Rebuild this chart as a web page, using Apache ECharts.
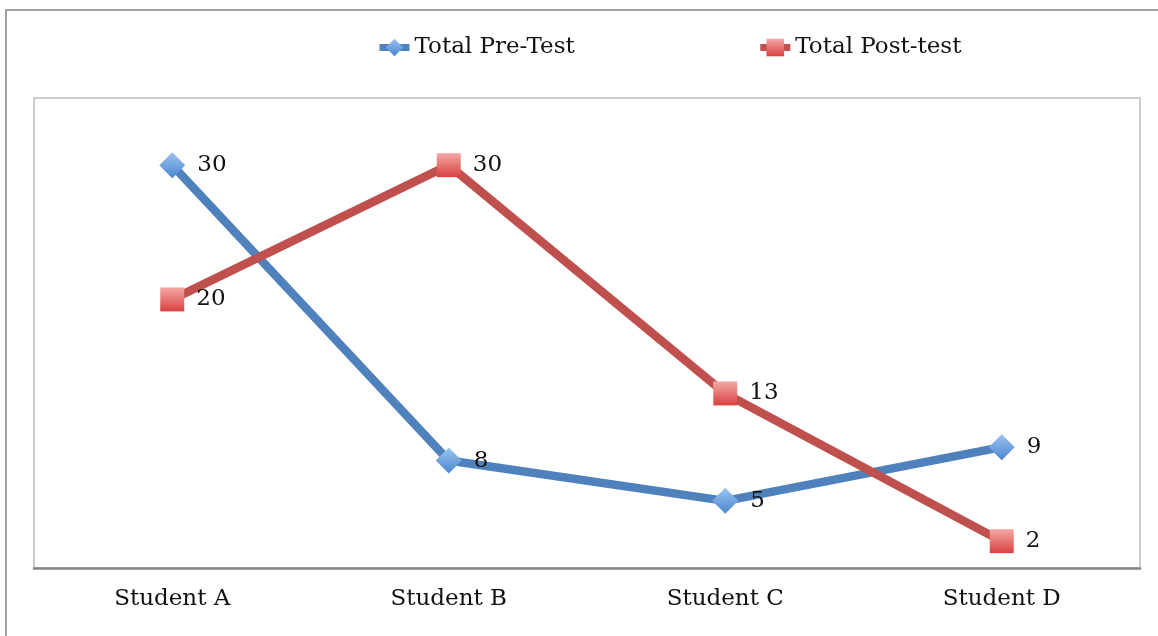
<!DOCTYPE html>
<html>
<head>
<meta charset="utf-8">
<script src="https://cdn.jsdelivr.net/npm/echarts@6/dist/echarts.min.js"></script>
<style>
  html, body { margin: 0; padding: 0; background: #fff; }
  #chart { width: 1158px; height: 636px; }
</style>
</head>
<body>
<div id="chart"></div>
<script>
// Scores per student, before and after
const categories = ['Student A', 'Student B', 'Student C', 'Student D'];
const preTest = [30, 8, 5, 9];
const postTest = [20, 30, 13, 2];
const seriesNames = ['Total Pre-Test', 'Total Post-test'];

const FONT = 'DejaVu Serif';

function grad(top, bottom) {
  return new echarts.graphic.LinearGradient(0, 0, 0, 1, [
    { offset: 0, color: top },
    { offset: 1, color: bottom }
  ]);
}

const chart = echarts.init(document.getElementById('chart'), null, { renderer: 'canvas' });

chart.setOption({
  animation: false,
  backgroundColor: '#ffffff',
  graphic: [{
    type: 'rect',
    shape: { x: 6, y: 10, width: 1170, height: 650 },
    style: { fill: 'none', stroke: '#a0a0a0', lineWidth: 2 },
    silent: true,
    z: -1
  }],
  legend: {
    top: 31,
    left: 371,
    itemGap: 182,
    itemWidth: 30,
    itemHeight: 22,
    lineStyle: { width: 7 },
    textStyle: { fontFamily: FONT, fontSize: 23, color: '#111' },
    data: seriesNames
  },
  grid: {
    left: 34,
    right: 18,
    top: 98,
    bottom: 68,
    show: true,
    borderColor: '#bdbdbd',
    borderWidth: 1.5,
    containLabel: false
  },
  xAxis: {
    type: 'category',
    data: categories,
    boundaryGap: true,
    axisLine: { show: true, lineStyle: { color: '#858585', width: 2.5 } },
    axisTick: { show: false },
    axisLabel: { fontFamily: FONT, fontSize: 23, color: '#111', margin: 20 },
    splitLine: { show: false }
  },
  yAxis: {
    type: 'value',
    min: 0,
    max: 35,
    interval: 5,
    show: false,
    splitLine: { show: false }
  },
  series: [
    {
      name: seriesNames[0],
      type: 'line',
      data: preTest,
      symbol: 'diamond',
      symbolSize: 26,
      lineStyle: { color: '#4f81bd', width: 8.5 },
      itemStyle: { color: grad('#9cc3f0', '#4a86d0'), borderWidth: 0 },
      label: {
        show: true,
        position: 'right',
        distance: 12,
        fontFamily: FONT,
        fontSize: 23,
        color: '#111'
      },
      z: 2
    },
    {
      name: seriesNames[1],
      type: 'line',
      data: postTest,
      symbol: 'rect',
      symbolSize: 24,
      lineStyle: { color: '#c0504d', width: 8.5 },
      itemStyle: { color: grad('#f5a9a7', '#d8403f'), borderWidth: 0 },
      label: {
        show: true,
        position: 'right',
        distance: 12,
        fontFamily: FONT,
        fontSize: 23,
        color: '#111'
      },
      z: 3
    }
  ]
});
</script>
</body>
</html>
